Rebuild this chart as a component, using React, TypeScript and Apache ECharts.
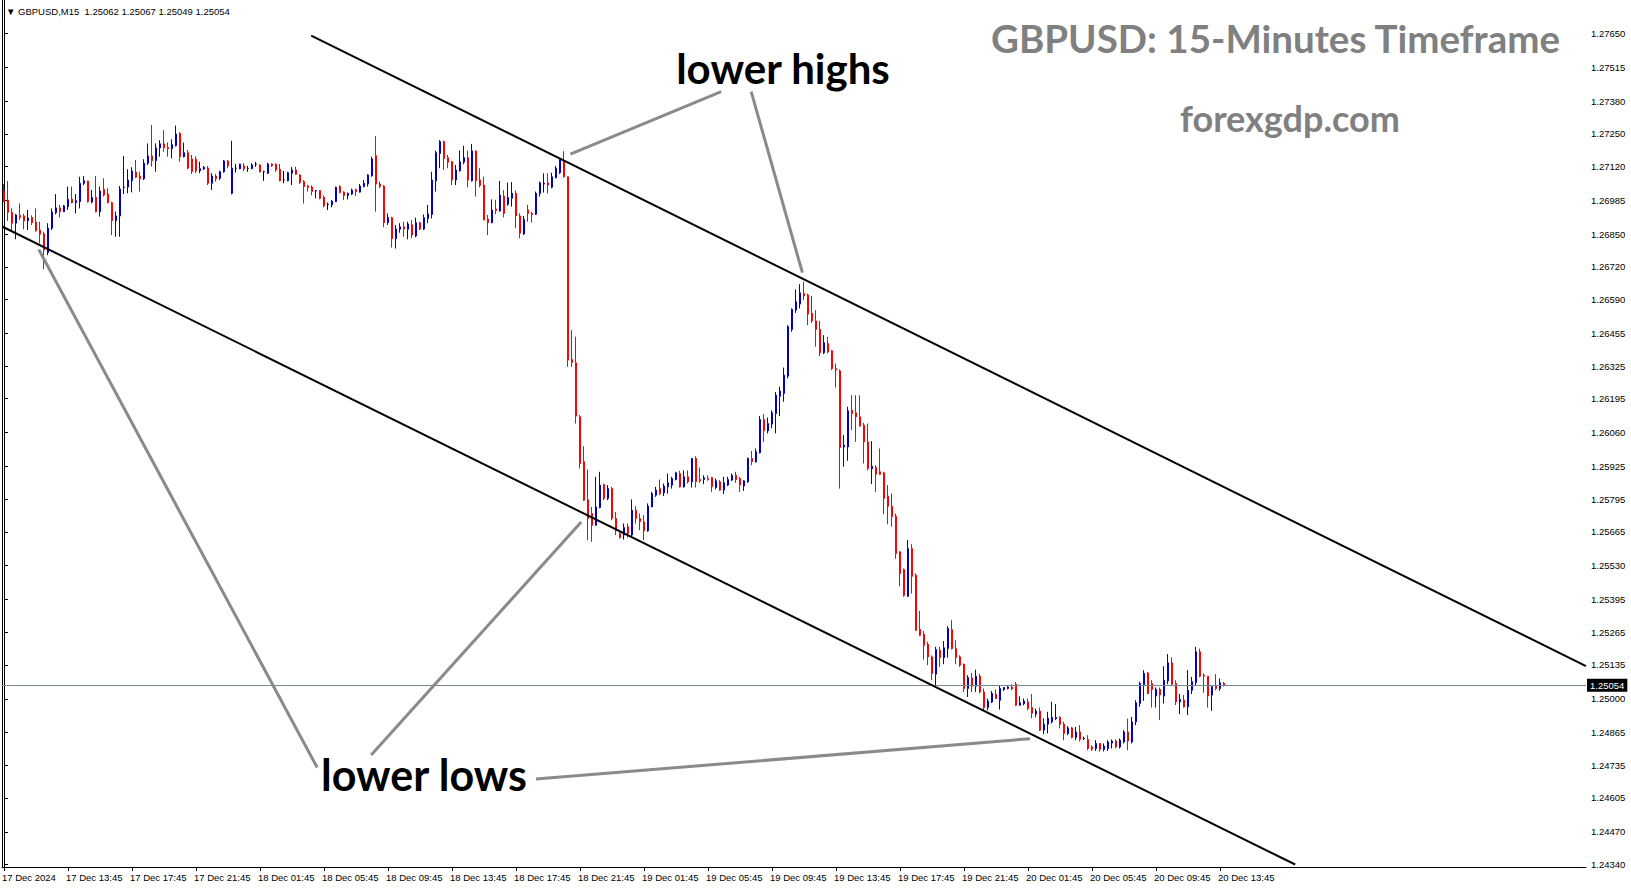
import React, { useEffect, useRef } from 'react';
import * as echarts from 'echarts';

const symbolName = 'GBPUSD,M15';
const chartTitle = 'GBPUSD: 15-Minutes Timeframe';
const siteName = 'forexgdp.com';

const timeLabels = [
  '17 Dec 2024', '17 Dec 13:45', '17 Dec 17:45', '17 Dec 21:45', '18 Dec 01:45',
  '18 Dec 05:45', '18 Dec 09:45', '18 Dec 13:45', '18 Dec 17:45', '18 Dec 21:45',
  '19 Dec 01:45', '19 Dec 05:45', '19 Dec 09:45', '19 Dec 13:45', '19 Dec 17:45',
  '19 Dec 21:45', '20 Dec 01:45', '20 Dec 05:45', '20 Dec 09:45', '20 Dec 13:45',
];
const barsPerLabel = 16;
const totalSlots = 396;

const yTickValues = [
  1.27650, 1.27515, 1.27380, 1.27250, 1.27120, 1.26985, 1.26850, 1.26720, 1.26590,
  1.26455, 1.26325, 1.26195, 1.26060, 1.25925, 1.25795, 1.25665, 1.25530, 1.25395,
  1.25265, 1.25135, 1.25000, 1.24865, 1.24735, 1.24605, 1.24470, 1.24340,
];
const yMin = 1.2433;
const yMax = 1.27783;

// [open, close, low, high]
const candlesDec17 = [
  [1.27022, 1.26980, 1.26978, 1.27050], [1.26986, 1.26937, 1.26903, 1.27062],
  [1.26937, 1.26894, 1.26867, 1.26953], [1.26894, 1.26927, 1.26830, 1.26931],
  [1.26925, 1.26917, 1.26907, 1.26973], [1.26923, 1.26903, 1.26870, 1.26931],
  [1.26904, 1.26915, 1.26867, 1.26947], [1.26917, 1.26896, 1.26887, 1.26925],
  [1.26898, 1.26864, 1.26860, 1.26953], [1.26867, 1.26850, 1.26814, 1.26900],
  [1.26852, 1.26787, 1.26710, 1.26860], [1.26777, 1.26874, 1.26767, 1.26894],
  [1.26874, 1.26939, 1.26867, 1.26953], [1.26936, 1.26955, 1.26929, 1.27010],
  [1.26955, 1.26940, 1.26917, 1.26967], [1.26940, 1.26963, 1.26939, 1.26967],
  [1.26960, 1.26989, 1.26947, 1.27040], [1.26989, 1.26976, 1.26973, 1.27040],
  [1.26976, 1.26984, 1.26933, 1.27010], [1.26980, 1.27053, 1.26953, 1.27079],
  [1.27053, 1.27063, 1.27046, 1.27082], [1.27062, 1.26980, 1.26976, 1.27063],
  [1.26978, 1.26997, 1.26973, 1.27026], [1.26997, 1.26940, 1.26937, 1.27082],
  [1.26940, 1.27022, 1.26920, 1.27040], [1.27029, 1.27006, 1.27000, 1.27073],
  [1.27010, 1.26976, 1.26973, 1.27033], [1.26976, 1.26904, 1.26847, 1.26980],
  [1.26904, 1.26923, 1.26840, 1.26940], [1.26923, 1.27030, 1.26840, 1.27042],
  [1.27036, 1.27038, 1.27010, 1.27162], [1.27038, 1.27066, 1.27013, 1.27109],
  [1.27063, 1.27102, 1.27017, 1.27117], [1.27098, 1.27077, 1.27073, 1.27146],
  [1.27082, 1.27071, 1.27020, 1.27099], [1.27071, 1.27133, 1.27066, 1.27149],
  [1.27133, 1.27162, 1.27126, 1.27212], [1.27162, 1.27143, 1.27119, 1.27285],
  [1.27143, 1.27194, 1.27099, 1.27212], [1.27194, 1.27210, 1.27159, 1.27225],
  [1.27210, 1.27195, 1.27179, 1.27265], [1.27196, 1.27191, 1.27159, 1.27216],
  [1.27191, 1.27207, 1.27152, 1.27228], [1.27203, 1.27249, 1.27199, 1.27283],
  [1.27252, 1.27159, 1.27139, 1.27256], [1.27159, 1.27175, 1.27156, 1.27215],
  [1.27175, 1.27113, 1.27109, 1.27186], [1.27150, 1.27100, 1.27090, 1.27166],
  [1.27148, 1.27102, 1.27093, 1.27160], [1.27103, 1.27111, 1.27093, 1.27139],
  [1.27110, 1.27117, 1.27106, 1.27122], [1.27114, 1.27053, 1.27046, 1.27122],
  [1.27053, 1.27082, 1.27026, 1.27093], [1.27082, 1.27071, 1.27060, 1.27090],
  [1.27073, 1.27099, 1.27066, 1.27103], [1.27099, 1.27142, 1.27095, 1.27146],
  [1.27142, 1.27122, 1.27113, 1.27146],
];

const candlesDec18 = [
  [1.27013, 1.27113, 1.27009, 1.27222], [1.27113, 1.27113, 1.27096, 1.27129],
  [1.27111, 1.27129, 1.27109, 1.27131], [1.27122, 1.27110, 1.27102, 1.27133],
  [1.27112, 1.27112, 1.27099, 1.27122], [1.27111, 1.27126, 1.27109, 1.27133],
  [1.27129, 1.27129, 1.27119, 1.27138], [1.27126, 1.27098, 1.27097, 1.27129],
  [1.27099, 1.27099, 1.27063, 1.27103], [1.27093, 1.27130, 1.27090, 1.27135],
  [1.27130, 1.27123, 1.27118, 1.27133], [1.27129, 1.27106, 1.27099, 1.27133],
  [1.27109, 1.27063, 1.27061, 1.27130], [1.27066, 1.27066, 1.27053, 1.27102],
  [1.27063, 1.27095, 1.27061, 1.27099], [1.27093, 1.27106, 1.27046, 1.27118],
  [1.27106, 1.27089, 1.27086, 1.27119], [1.27086, 1.27056, 1.27050, 1.27089],
  [1.27060, 1.27040, 1.26972, 1.27066], [1.27042, 1.27036, 1.27020, 1.27046],
  [1.27038, 1.27020, 1.27005, 1.27045], [1.27022, 1.27024, 1.26993, 1.27026],
  [1.27024, 1.26993, 1.26989, 1.27026], [1.26997, 1.26963, 1.26957, 1.27005],
  [1.26969, 1.26969, 1.26947, 1.26976], [1.26967, 1.26982, 1.26957, 1.26986],
  [1.26980, 1.27037, 1.26978, 1.27040], [1.27040, 1.27016, 1.27013, 1.27045],
  [1.27018, 1.27004, 1.26986, 1.27021], [1.27004, 1.27013, 1.26989, 1.27016],
  [1.27010, 1.27026, 1.27006, 1.27032], [1.27028, 1.27020, 1.27002, 1.27032],
  [1.27018, 1.27042, 1.27016, 1.27050], [1.27040, 1.27053, 1.27037, 1.27066],
  [1.27050, 1.27086, 1.27040, 1.27089], [1.27083, 1.27150, 1.27079, 1.27159],
  [1.27163, 1.27050, 1.26940, 1.27241], [1.27050, 1.27040, 1.27033, 1.27060],
  [1.27042, 1.26896, 1.26878, 1.27046], [1.26896, 1.26917, 1.26887, 1.26933],
  [1.26916, 1.26832, 1.26797, 1.26920], [1.26832, 1.26871, 1.26793, 1.26887],
  [1.26870, 1.26880, 1.26856, 1.26894], [1.26880, 1.26871, 1.26840, 1.26900],
  [1.26870, 1.26891, 1.26830, 1.26900], [1.26888, 1.26847, 1.26834, 1.26907],
  [1.26843, 1.26896, 1.26838, 1.26916], [1.26896, 1.26871, 1.26867, 1.26900],
  [1.26871, 1.26916, 1.26867, 1.26929], [1.26913, 1.26931, 1.26894, 1.26967],
  [1.26929, 1.27066, 1.26913, 1.27099], [1.27063, 1.27175, 1.27020, 1.27183],
  [1.27172, 1.27219, 1.27113, 1.27225], [1.27219, 1.27152, 1.27106, 1.27223],
  [1.27155, 1.27137, 1.27113, 1.27166], [1.27139, 1.27066, 1.27046, 1.27142],
  [1.27066, 1.27106, 1.27046, 1.27126], [1.27103, 1.27139, 1.27099, 1.27183],
  [1.27137, 1.27155, 1.27129, 1.27202], [1.27155, 1.27066, 1.27037, 1.27183],
  [1.27063, 1.27182, 1.27060, 1.27210], [1.27182, 1.27063, 1.27000, 1.27183],
  [1.27066, 1.27044, 1.27037, 1.27113], [1.27046, 1.26907, 1.26905, 1.27079],
  [1.26911, 1.26896, 1.26847, 1.26927], [1.26896, 1.26947, 1.26894, 1.26989],
  [1.26950, 1.26944, 1.26930, 1.26987], [1.26943, 1.27006, 1.26940, 1.27062],
  [1.27002, 1.26933, 1.26917, 1.27026], [1.26970, 1.26996, 1.26963, 1.27056],
  [1.26993, 1.27013, 1.26960, 1.27058], [1.27013, 1.26923, 1.26874, 1.27024],
  [1.26923, 1.26854, 1.26834, 1.26933], [1.26851, 1.26909, 1.26847, 1.26923],
  [1.26947, 1.26933, 1.26900, 1.26967], [1.26933, 1.26928, 1.26896, 1.26939],
  [1.26930, 1.27013, 1.26927, 1.27020], [1.27013, 1.27055, 1.27000, 1.27060],
  [1.27050, 1.27053, 1.27016, 1.27093], [1.27055, 1.27046, 1.27013, 1.27093],
  [1.27037, 1.27079, 1.27033, 1.27095], [1.27075, 1.27113, 1.27073, 1.27122],
  [1.27095, 1.27148, 1.27090, 1.27155], [1.27143, 1.27079, 1.27075, 1.27181],
  [1.27079, 1.26349, 1.26322, 1.27080], [1.26351, 1.26339, 1.26322, 1.26468],
  [1.26338, 1.26126, 1.26096, 1.26442], [1.26123, 1.25937, 1.25917, 1.26130],
  [1.25944, 1.25791, 1.25788, 1.26006], [1.25793, 1.25718, 1.25632, 1.25913],
  [1.25738, 1.25691, 1.25625, 1.25764], [1.25691, 1.25764, 1.25691, 1.25884],
  [1.25762, 1.25851, 1.25758, 1.25904], [1.25853, 1.25798, 1.25791, 1.25857],
  [1.25798, 1.25837, 1.25791, 1.25851], [1.25837, 1.25718, 1.25711, 1.25844],
];

const candlesDec19 = [
  [1.25718, 1.25671, 1.25652, 1.25744], [1.25658, 1.25642, 1.25638, 1.25665],
  [1.25652, 1.25682, 1.25634, 1.25698], [1.25685, 1.25658, 1.25642, 1.25698],
  [1.25652, 1.25751, 1.25645, 1.25794], [1.25751, 1.25718, 1.25698, 1.25767],
  [1.25718, 1.25705, 1.25671, 1.25738], [1.25705, 1.25669, 1.25632, 1.25731],
  [1.25669, 1.25767, 1.25665, 1.25778], [1.25764, 1.25817, 1.25764, 1.25824],
  [1.25811, 1.25831, 1.25804, 1.25844], [1.25837, 1.25817, 1.25811, 1.25873],
  [1.25820, 1.25847, 1.25807, 1.25857], [1.25844, 1.25860, 1.25817, 1.25897],
  [1.25851, 1.25877, 1.25837, 1.25884], [1.25873, 1.25900, 1.25870, 1.25904],
  [1.25897, 1.25844, 1.25841, 1.25908], [1.25844, 1.25884, 1.25841, 1.25910],
  [1.25884, 1.25864, 1.25857, 1.25910], [1.25864, 1.25957, 1.25841, 1.25957],
  [1.25957, 1.25864, 1.25841, 1.25966], [1.25873, 1.25868, 1.25860, 1.25921],
  [1.25873, 1.25880, 1.25855, 1.25890], [1.25877, 1.25873, 1.25868, 1.25890],
  [1.25881, 1.25844, 1.25824, 1.25884], [1.25841, 1.25868, 1.25834, 1.25877],
  [1.25864, 1.25831, 1.25828, 1.25871], [1.25831, 1.25860, 1.25815, 1.25884],
  [1.25851, 1.25873, 1.25847, 1.25884], [1.25871, 1.25890, 1.25868, 1.25897],
  [1.25890, 1.25873, 1.25860, 1.25904], [1.25877, 1.25851, 1.25824, 1.25884],
  [1.25847, 1.25868, 1.25828, 1.25871], [1.25864, 1.25957, 1.25860, 1.25961],
  [1.25957, 1.25944, 1.25930, 1.25987], [1.25944, 1.25984, 1.25940, 1.25997],
  [1.25980, 1.26112, 1.25977, 1.26126], [1.26112, 1.26067, 1.26023, 1.26134],
  [1.26067, 1.26096, 1.26057, 1.26120], [1.26094, 1.26139, 1.26077, 1.26149],
  [1.26136, 1.26209, 1.26057, 1.26222], [1.26205, 1.26226, 1.26126, 1.26243],
  [1.26216, 1.26289, 1.26183, 1.26319], [1.26285, 1.26482, 1.26276, 1.26488],
  [1.26471, 1.26551, 1.26462, 1.26555], [1.26548, 1.26581, 1.26537, 1.26630],
  [1.26572, 1.26617, 1.26555, 1.26651], [1.26614, 1.26604, 1.26588, 1.26661],
  [1.26608, 1.26532, 1.26488, 1.26614], [1.26535, 1.26505, 1.26497, 1.26604],
  [1.26505, 1.26471, 1.26402, 1.26548], [1.26471, 1.26378, 1.26365, 1.26505],
  [1.26378, 1.26418, 1.26373, 1.26448], [1.26415, 1.26382, 1.26375, 1.26442],
  [1.26386, 1.26315, 1.26309, 1.26389], [1.26315, 1.26309, 1.26240, 1.26335],
  [1.26306, 1.26001, 1.25837, 1.26312], [1.26003, 1.26010, 1.25924, 1.26050],
  [1.26003, 1.26147, 1.25948, 1.26163], [1.26149, 1.26136, 1.26070, 1.26209],
  [1.26139, 1.26123, 1.26023, 1.26209], [1.26123, 1.26086, 1.26083, 1.26209],
  [1.26090, 1.26023, 1.25937, 1.26099], [1.26023, 1.25917, 1.25910, 1.26096],
  [1.25916, 1.25926, 1.25855, 1.26026], [1.25921, 1.25894, 1.25824, 1.25930],
  [1.25904, 1.25894, 1.25891, 1.25997], [1.25900, 1.25798, 1.25735, 1.25904],
  [1.25807, 1.25767, 1.25695, 1.25851], [1.25767, 1.25725, 1.25685, 1.25818],
  [1.25727, 1.25578, 1.25558, 1.25738], [1.25585, 1.25499, 1.25448, 1.25589],
  [1.25515, 1.25412, 1.25406, 1.25519], [1.25408, 1.25598, 1.25406, 1.25632],
  [1.25598, 1.25488, 1.25419, 1.25616], [1.25492, 1.25273, 1.25270, 1.25499],
  [1.25276, 1.25253, 1.25249, 1.25350], [1.25257, 1.25213, 1.25156, 1.25270],
  [1.25217, 1.25167, 1.25134, 1.25227], [1.25167, 1.25100, 1.25074, 1.25173],
  [1.25098, 1.25196, 1.25050, 1.25207], [1.25193, 1.25164, 1.25127, 1.25207],
  [1.25164, 1.25203, 1.25138, 1.25230], [1.25200, 1.25280, 1.25164, 1.25289],
  [1.25276, 1.25200, 1.25196, 1.25313], [1.25200, 1.25164, 1.25138, 1.25233],
  [1.25167, 1.25134, 1.25127, 1.25173], [1.25138, 1.25041, 1.25027, 1.25140],
  [1.25041, 1.25084, 1.25007, 1.25094], [1.25083, 1.25050, 1.25027, 1.25103],
  [1.25050, 1.25090, 1.25027, 1.25116], [1.25090, 1.25027, 1.25021, 1.25100],
  [1.25027, 1.24965, 1.24954, 1.25041], [1.24965, 1.24991, 1.24954, 1.25001],
  [1.24987, 1.25021, 1.24983, 1.25031], [1.25018, 1.25001, 1.25001, 1.25037],
];

const candlesDec20 = [
  [1.24994, 1.25041, 1.24957, 1.25054], [1.25037, 1.25045, 1.25031, 1.25047],
  [1.25041, 1.25047, 1.25037, 1.25050], [1.25047, 1.25039, 1.25034, 1.25058],
  [1.25058, 1.24974, 1.24970, 1.25067], [1.24974, 1.24984, 1.24974, 1.25010],
  [1.24980, 1.24991, 1.24974, 1.25001], [1.24987, 1.24961, 1.24954, 1.25001],
  [1.24965, 1.24942, 1.24922, 1.25019], [1.24939, 1.24951, 1.24926, 1.24961],
  [1.24951, 1.24875, 1.24872, 1.24965], [1.24875, 1.24899, 1.24859, 1.24922],
  [1.24899, 1.24922, 1.24862, 1.24948], [1.24908, 1.24926, 1.24902, 1.24988],
  [1.24921, 1.24926, 1.24915, 1.24979], [1.24926, 1.24898, 1.24882, 1.24931],
  [1.24899, 1.24862, 1.24835, 1.24908], [1.24862, 1.24884, 1.24855, 1.24891],
  [1.24884, 1.24846, 1.24842, 1.24888], [1.24846, 1.24868, 1.24835, 1.24888],
  [1.24868, 1.24838, 1.24830, 1.24895], [1.24842, 1.24842, 1.24835, 1.24849],
  [1.24838, 1.24802, 1.24795, 1.24855], [1.24808, 1.24799, 1.24792, 1.24815],
  [1.24802, 1.24822, 1.24792, 1.24835], [1.24822, 1.24798, 1.24790, 1.24824],
  [1.24798, 1.24811, 1.24790, 1.24822], [1.24802, 1.24828, 1.24792, 1.24835],
  [1.24824, 1.24832, 1.24802, 1.24838], [1.24832, 1.24808, 1.24802, 1.24838],
  [1.24808, 1.24835, 1.24802, 1.24842], [1.24828, 1.24868, 1.24822, 1.24875],
  [1.24868, 1.24832, 1.24795, 1.24921], [1.24828, 1.24908, 1.24822, 1.24928],
  [1.24908, 1.24984, 1.24895, 1.24994], [1.24981, 1.25061, 1.24968, 1.25068],
  [1.25057, 1.25101, 1.24992, 1.25114], [1.25103, 1.25021, 1.25018, 1.25107],
  [1.25061, 1.25037, 1.24965, 1.25074], [1.25011, 1.25037, 1.24965, 1.25045],
  [1.25037, 1.25015, 1.24915, 1.25045], [1.25011, 1.25074, 1.24981, 1.25130],
  [1.25071, 1.25143, 1.25058, 1.25178], [1.25143, 1.25058, 1.25050, 1.25165],
  [1.25061, 1.24988, 1.24975, 1.25074], [1.24988, 1.24997, 1.24939, 1.25019],
  [1.24995, 1.24968, 1.24965, 1.25015], [1.24968, 1.25034, 1.24935, 1.25114],
  [1.25034, 1.25068, 1.25019, 1.25087], [1.25064, 1.25187, 1.25054, 1.25207],
  [1.25187, 1.25090, 1.25085, 1.25200], [1.25094, 1.25090, 1.25024, 1.25101],
  [1.25090, 1.25011, 1.24965, 1.25090], [1.25015, 1.25048, 1.24952, 1.25050],
  [1.25050, 1.25041, 1.25034, 1.25098], [1.25041, 1.25064, 1.25032, 1.25081],
  [1.25062, 1.25054, 1.25049, 1.25067],
];

// trend channel lines: [bar index, price]
const upperChannel = [[76.8, 1.27641], [395.5, 1.2513]];
const lowerChannel = [[-0.35, 1.2688], [322.8, 1.2434]];

// annotation pointer lines: [bar index, price]
const pointerHighs = [
  [[141.6, 1.27169], [179.3, 1.27418]],
  [[186.8, 1.27418], [199.6, 1.26697]],
];
const pointerLows = [
  [[78.3, 1.24726], [8.7, 1.26789]],
  [[91.8, 1.24776], [144.3, 1.25704]],
  [[133.0, 1.2468], [256.5, 1.24841]],
];

const BULL = '#0000cd';
const BEAR = '#ff0000';
const SMALL_FONT = 'Liberation Sans';

export default function App() {
  const ref = useRef<HTMLDivElement>(null);

  useEffect(() => {
    if (!ref.current) return;
    const chart = echarts.init(ref.current, undefined, { renderer: 'svg' });

    const candles = [...candlesDec17, ...candlesDec18, ...candlesDec19, ...candlesDec20];
    const last = candles[candles.length - 1];
    const categories = Array.from({ length: totalSlots }, (_, i) => String(i));
    const showAt = (i: number) => i % barsPerLabel === 0 && i / barsPerLabel < timeLabels.length;

    const lineSeries = (data: number[][], color: string, width: number) => ({
      type: 'line',
      xAxisIndex: 1,
      data,
      symbol: 'none',
      silent: true,
      z: 6,
      lineStyle: { color, width, type: 'solid' },
    });

    const header = `\u25BC ${symbolName}  ${last[0].toFixed(5)} ${last[3].toFixed(5)} ${last[2].toFixed(5)} ${last[1].toFixed(5)}`;

    chart.setOption({
      animation: false,
      backgroundColor: '#ffffff',
      grid: { left: 2, right: 45, top: 0, bottom: 21, containLabel: false, outerBoundsMode: 'none' },
      xAxis: [
        {
          type: 'category',
          data: categories,
          boundaryGap: true,
          axisLine: { show: true, lineStyle: { color: '#000', width: 1 } },
          axisTick: { show: true, alignWithLabel: true, length: 4, interval: (i: number) => showAt(i), lineStyle: { color: '#000' } },
          axisLabel: {
            show: true,
            interval: (i: number) => showAt(i),
            formatter: (_v: string, i: number) => timeLabels[Math.round(i / barsPerLabel)] || '',
            align: 'left',
            margin: 5,
            padding: [0, 0, 0, -2],
            color: '#000',
            fontFamily: SMALL_FONT,
            fontSize: 9.5,
          },
          splitLine: { show: false },
        },
        { type: 'value', min: -0.5, max: totalSlots - 0.5, show: false },
      ],
      yAxis: [
        {
          type: 'value',
          position: 'right',
          min: yMin,
          max: yMax,
          scale: true,
          axisLine: { show: true, lineStyle: { color: '#000', width: 1 } },
          axisTick: { show: true, length: 4, customValues: yTickValues, lineStyle: { color: '#000' } },
          axisLabel: {
            show: true,
            customValues: yTickValues,
            formatter: (v: number) => v.toFixed(5),
            margin: 5,
            color: '#000',
            fontFamily: SMALL_FONT,
            fontSize: 9.5,
          },
          splitLine: { show: false },
        },
        {
          type: 'value',
          position: 'left',
          min: yMin,
          max: yMax,
          axisLine: { show: true, onZero: false, lineStyle: { color: '#000', width: 1 } },
          axisTick: { show: false },
          axisLabel: { show: false },
          splitLine: { show: false },
        },
      ],
      series: [
        {
          type: 'candlestick',
          xAxisIndex: 0,
          yAxisIndex: 0,
          data: candles,
          barWidth: 2,
          z: 3,
          itemStyle: {
            color: BULL,
            color0: BEAR,
            borderColor: BULL,
            borderColor0: BEAR,
            borderColorDoji: '#000',
            borderWidth: 1,
          },
          markLine: {
            silent: true,
            precision: 5,
            symbol: ['none', 'none'],
            lineStyle: { color: '#778899', width: 1, type: 'solid' },
            label: {
              show: true,
              position: 'end',
              distance: 1,
              formatter: () => last[1].toFixed(5),
              backgroundColor: '#000',
              color: '#fff',
              padding: [2, 3, 1, 3],
              fontFamily: SMALL_FONT,
              fontSize: 9.5,
            },
            data: [{ yAxis: last[1] }],
          },
        },
        lineSeries(upperChannel, '#000', 2),
        lineSeries(lowerChannel, '#000', 2),
        ...pointerHighs.map((d) => lineSeries(d, '#8a8a8a', 3)),
        ...pointerLows.map((d) => lineSeries(d, '#8a8a8a', 3)),
      ],
      graphic: [
        {
          type: 'text', x: 6, y: 11,
          style: { text: header, fill: '#000', fontFamily: SMALL_FONT, fontSize: 9.5, align: 'left', verticalAlign: 'middle' },
        },
        {
          type: 'text', x: 1560, y: 38,
          style: { text: chartTitle, fill: '#808080', fontFamily: 'Lato', fontWeight: 'bold', fontSize: 38.5, align: 'right', verticalAlign: 'middle' },
        },
        {
          type: 'text', x: 1290, y: 118,
          style: { text: siteName, fill: '#808080', fontFamily: 'Lato', fontWeight: 'bold', fontSize: 36, align: 'center', verticalAlign: 'middle' },
        },
        {
          type: 'text', x: 783, y: 68, z: 10,
          style: { text: 'lower highs', fill: '#000', fontFamily: 'Lato', fontWeight: 'bold', fontSize: 42, align: 'center', verticalAlign: 'middle' },
        },
        {
          type: 'text', x: 424, y: 774, z: 10,
          style: { text: 'lower lows', fill: '#000', fontFamily: 'Lato', fontWeight: 'bold', fontSize: 43, align: 'center', verticalAlign: 'middle' },
        },
      ],
    });

    return () => chart.dispose();
  }, []);

  return (
    <div
      ref={ref}
      style={{ position: 'fixed', left: 0, top: 0, width: 1631, height: 888, background: '#fff' }}
    />
  );
}
